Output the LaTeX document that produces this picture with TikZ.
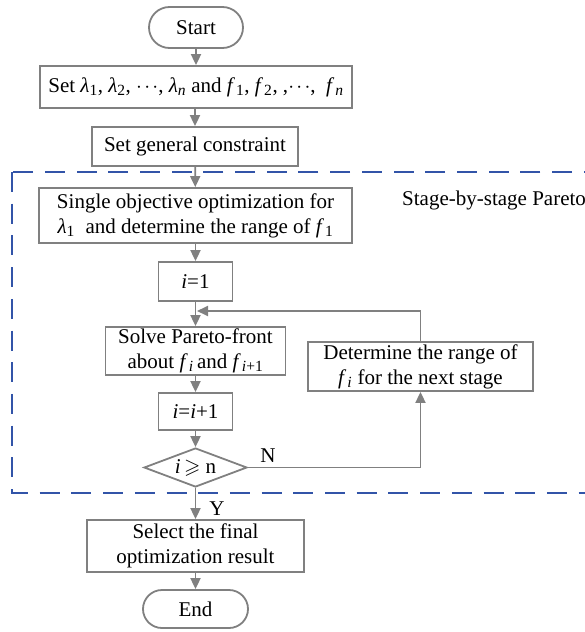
\documentclass[tikz,border=0pt]{standalone}
\usepackage{amssymb}
\usepackage{mathptmx}
\usepackage{fontspec}
\setmainfont{Liberation Serif}
\usetikzlibrary{arrows.meta,shapes.geometric,shapes.misc}
\definecolor{lgray}{RGB}{128,128,128}
\definecolor{dblue}{RGB}{50,84,168}
\newcommand{\lamsub}[1]{\textit{λ}\textsubscript{#1}}
\newcommand{\fsub}[1]{\textit{f}\kern1pt\textsubscript{#1}}
\begin{document}
\begin{tikzpicture}[x=1pt,y=-1pt,
  every node/.style={font=\fontsize{21}{25}\selectfont},
  box/.style={draw=lgray,line width=1.8pt,rectangle,align=center,inner sep=0pt},
  term/.style={draw=lgray,line width=1.8pt,rounded rectangle,inner sep=0pt},
  dec/.style={draw=lgray,line width=1.8pt,diamond,aspect=2.6,inner sep=0pt},
  arr/.style={draw=lgray,line width=1.8pt,-{Triangle[length=11pt,width=10pt]}},
  stage/.style={draw=dblue,line width=2.6pt,dash pattern=on 20pt off 11.7pt}
]
\useasboundingbox (0,0) rectangle (585,632);
% stage frame
\draw[stage] (12,172) rectangle (605,493);
\node[anchor=base west,inner sep=0pt] (lbl) at (402,205) {Stage-by-stage Pareto};

\node[term,minimum width=94pt,minimum height=41pt] (start) at (196,27.5) {Start};
\node[box,minimum width=312pt,minimum height=42pt] (set) at (196,87)
  {Set \lamsub{1}, \lamsub{2}, $\cdots$, \lamsub{\textit{n}} and \fsub{1}, \fsub{2}, ,$\cdots$,\ \ \fsub{\textit{n}}};
\node[box,minimum width=206pt,minimum height=39pt] (cons) at (195,146.5) {Set general constraint};
\node[box,minimum width=313pt,minimum height=55pt] (single) at (195.5,215.5)
  {Single objective optimization for\\\lamsub{1}\ \ and determine the range of \fsub{1}};
\node[box,minimum width=74pt,minimum height=39pt] (i1) at (195.5,281.5) {\textit{i}=1};
\node[box,minimum width=180pt,minimum height=48pt] (solve) at (195.5,351)
  {Solve Pareto-front\\about \fsub{\textit{i}}\,and \fsub{\textit{i}+1}};
\node[box,minimum width=225pt,minimum height=49pt] (det) at (420.5,366.5)
  {Determine the range of\\\fsub{\textit{i}} for the next stage};
\node[box,minimum width=74pt,minimum height=37pt] (inc) at (195.5,411.5) {\textit{i}=\textit{i}+1};
\node[dec,minimum width=103pt,minimum height=39pt] (dia) at (195.5,467.5) {\textit{i}\,$\geqslant$ n};
\node[box,minimum width=217pt,minimum height=52pt] (sel) at (195.5,546)
  {Select the final\\optimization result};
\node[term,minimum width=105pt,minimum height=38pt] (end) at (195.5,609) {End};

\node[inner sep=0pt] (nlab) at (268,456) {N};
\node[inner sep=0pt] (ylab) at (217,509) {Y};

\draw[arr] (start) -- (set);
\draw[arr] (set.south -| cons) -- (cons);
\draw[arr] (cons) -- (single);
\draw[arr] (single) -- (i1);
\draw[arr] (i1) -- (solve);
\draw[arr] (solve) -- (inc);
\draw[arr] (inc) -- (dia);
\draw[arr] (dia) -- (sel);
\draw[arr] (sel) -- (end);
\coordinate (fb) at (197,311);
\draw[arr] (det.north) |- (fb);
\draw[arr] (dia.east) -| (det.south);
\end{tikzpicture}
\end{document}
